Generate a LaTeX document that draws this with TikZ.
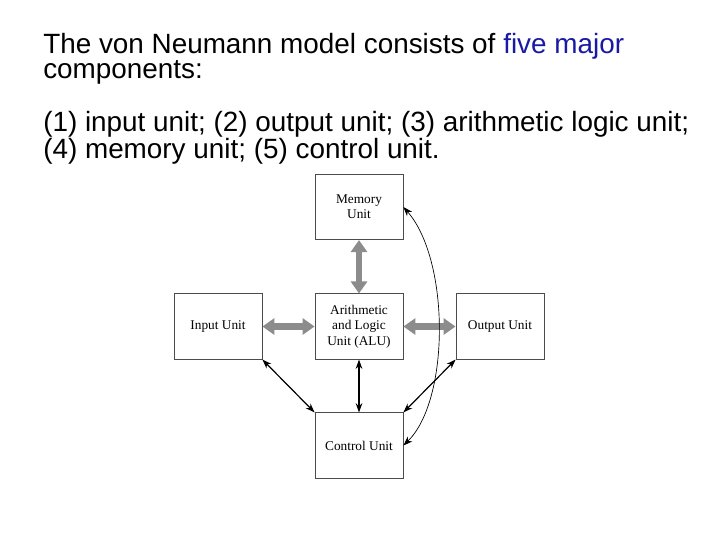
\documentclass[tikz,border=0pt]{standalone}
\usepackage{fontspec}
\setmainfont{Liberation Serif}
\newfontfamily\arialf{Liberation Sans}
\usetikzlibrary{arrows.meta}
\begin{document}
\begin{tikzpicture}[x=0.75pt,y=-0.75pt,
  unit/.style={draw=black!70,line width=0.6pt,minimum width=66pt,minimum height=49pt,inner sep=0pt,align=center,font=\fontsize{10}{11.5}\selectfont},
  fat/.style={{Triangle[width=12pt,length=9pt]}-{Triangle[width=12pt,length=9pt]},line width=5pt,draw=black!45},
  thin/.style={{Stealth[length=7pt,width=5pt]}-{Stealth[length=7pt,width=5pt]},line width=0.9pt},
  hair/.style={{Stealth[length=7pt,width=5pt]}-{Stealth[length=7pt,width=5pt]},line width=0.5pt}]
\useasboundingbox (0,0) rectangle (720,540);
\node[anchor=north west,align=left,inner sep=0pt,font=\arialf\fontsize{20.9}{19}\selectfont] (txt) at (43,33)
 {The von Neumann model consists of \textcolor[rgb]{0.1,0.1,0.65}{five major}\\components:\\[19pt]
 (1) input unit; (2) output unit; (3) arithmetic logic unit;\\(4) memory unit; (5) control unit.};
\node[unit] (mem) at (359,207) {Memory\\Unit};
\node[unit] (alu) at (359,326.5) {Arithmetic\\and Logic\\Unit (ALU)};
\node[unit] (in) at (218,326.5) {Input Unit};
\node[unit] (out) at (500,326.5) {Output Unit};
\node[unit] (ctl) at (359,445.5) {Control Unit};
\draw[fat] (mem.south) -- (alu.north);
\draw[fat] (in.east) -- (alu.west);
\draw[fat] (alu.east) -- (out.west);
\draw[thin] (alu.south) -- (ctl.north);
\draw[thin] (in.south east) -- (ctl.north west);
\draw[thin] (out.south west) -- (ctl.north east);
\draw[hair] (mem.east) .. controls (450,260) and (450,400) .. (ctl.east);
\end{tikzpicture}
\end{document}
